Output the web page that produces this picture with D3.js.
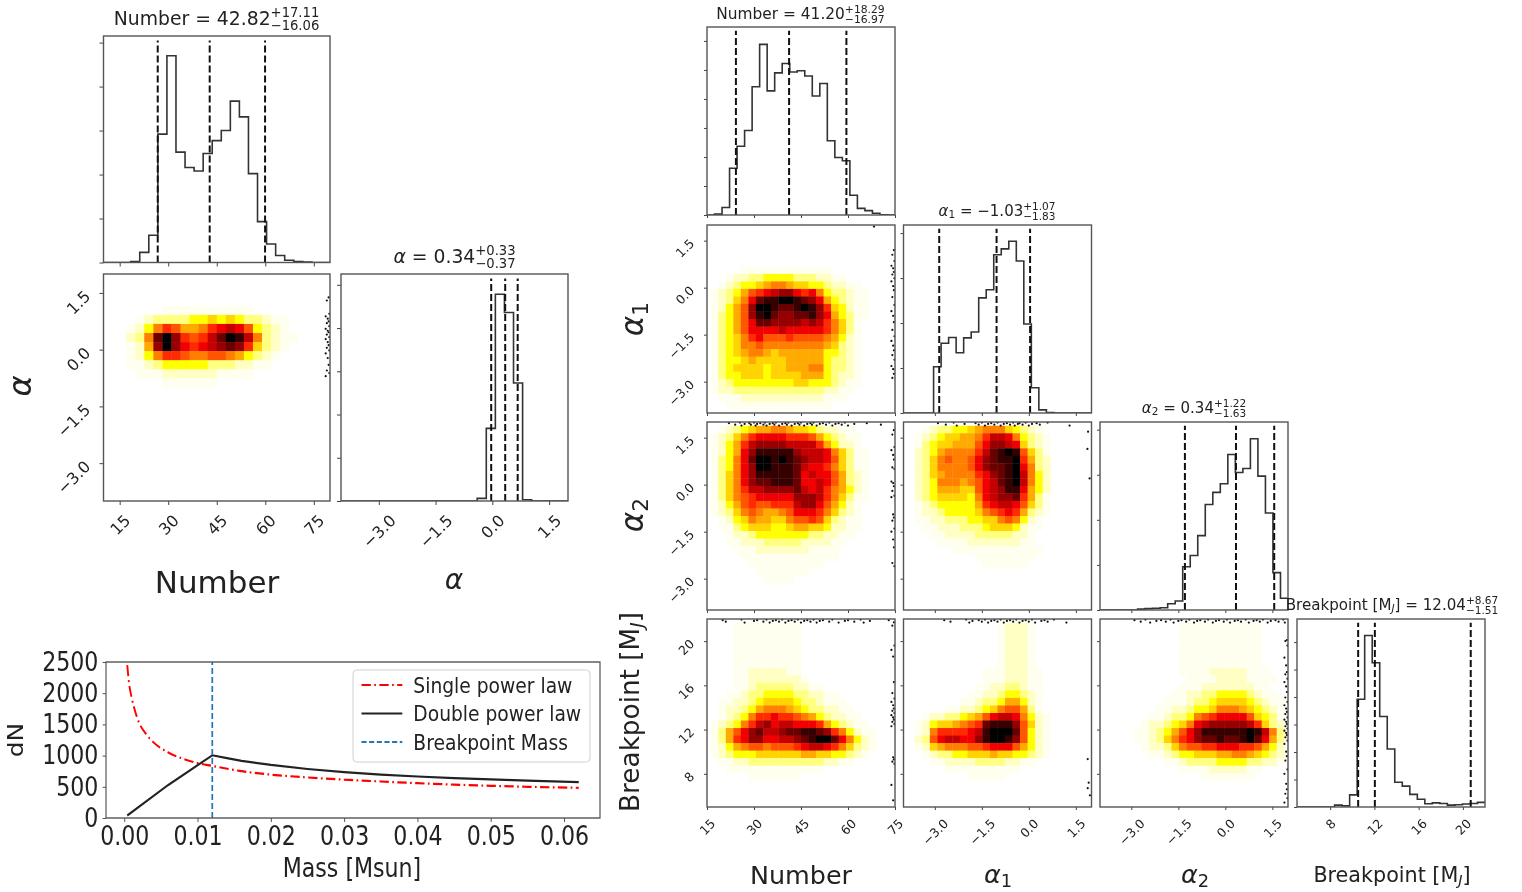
<!DOCTYPE html>
<html>
<head>
<meta charset="utf-8">
<script src="https://cdn.jsdelivr.net/npm/d3@7"></script>
<style>
  body { margin: 0; background: #fff; }
  svg { display: block; filter: blur(0.6px); }
  text { font-family: "DejaVu Sans", sans-serif; fill: #222; }
</style>
</head>
<body>
<script>
// ticks
var ticksNumber = [15, 30, 45, 60, 75];
var ticksAlpha = [-3, -1.5, 0, 1.5];
var ticksBreak = [8, 12, 16, 20];

// 25 bin histograms
var histNumberA = [0,0,0,2,23,62,292,470,251,216,208,248,277,300,367,331,202,93,42,16,5,2,1,0,0];
var histAlphaA = [0,0,0,0,0,0,0,0,0,0,0,0,0,0,0,6,168,478,436,273,3,0,0,0,0];
var histNumberB = [0,3,26,161,237,291,442,588,428,490,522,493,497,479,410,453,256,198,187,68,23,15,6,1,0];
var histAlpha1 = [0,0,0,0,103,155,168,134,167,180,256,274,352,365,382,338,198,56,7,1,0,0,0,0,0];
var histAlpha2 = [0,0,0,0,0,2,3,4,5,14,20,96,121,165,234,261,280,345,305,314,380,297,215,83,26];
var histBreak = [0,0,0,0,0,7,4,44,392,624,525,329,211,90,76,46,28,12,15,13,7,8,11,13,17];

// quantile lines
var quantNumberA = [26.76, 42.82, 59.93];
var quantAlphaA = [-0.03, 0.34, 0.67];
var quantNumberB = [24.23, 41.20, 59.49];
var quantAlpha1 = [-2.86, -1.03, 0.04];
var quantAlpha2 = [-1.29, 0.34, 1.56];
var quantBreak = [10.53, 12.04, 20.71];

// density cells, one hex level per cell (0 white .. f black), rows from the top
var heatNumberAlpha = ["","","",
  "0000001111111111",
  "00012333344545433211",
  "001247986679aba84321",
  "00237dfc989bdfeb73211",
  "00126cfca9abcdc95321",
  "0012479987788764321",
  "001123444443332211",
  "0001112222221111",
  "000000111111"];
var heatNumberAlpha1 = ["","","","","",
  "0000111111111111",
  "001223344443332211",
  "01234456776554432211",
  "1234689abcca9a7433211",
  "12357adeeffedca643211",
  "12468cffeddefec954211",
  "13468cefdccddeca64311",
  "13468addccccbcb97531",
  "13468aaaabaaaaa97531",
  "134579a8889888876421",
  "13457787777777765321",
  "13456776566666644321",
  "13445655556666643321",
  "13455554556667743321",
  "13445554555566643221",
  "12344444444554443211",
  "1223333333333332211",
  "011122222222222111",
  "0011111111111111"];
var heatNumberAlpha2 = [
  "0123456677655432211",
  "123579aaaa9998643211",
  "12469bccccbbbb964221",
  "1246aceeeeecbbba75311",
  "1347adffefedcbba85311",
  "1347acffeeedbaa975311",
  "1357aceeeeedabaa86321",
  "1357acddeeedaaba86321",
  "13579bbccccdbab976421",
  "135789aaaaacccb975311",
  "12468988999bcca86421",
  "12357876678aaa975321",
  "01245766557889853211",
  "01134555445665542211",
  "0012234444444332211",
  "001122233333222211",
  "00011122222221111",
  "00001111111111111",
  "000001111111111",
  "0000001111111",
  "00000001111"];
var heatAlpha1Alpha2 = [
  "001233445677754321",
  "01234556679bba74321",
  "0134556668accba5321",
  "0234677779bdefe8531",
  "023578778acdeef9632",
  "023577778acddefa732",
  "0235677779acdefb742",
  "0234777678abdefb742",
  "0234666558abceea642",
  "0234555547abccd9631",
  "01234444469abba8531",
  "0122344445789a96321",
  "011223334455787421",
  "001122233345554211",
  "00011222233333221",
  "00001111222222211",
  "000000111111111111",
  "00000000011111111",
  "0000000000111111"];
var heatNumberBreak = [
  "000111111111","000111111111","000111111111","000111111111","000111111111","000111111111",
  "000112222211",
  "0001122222221",
  "000112333332211",
  "00112334444332211",
  "011223455554332111",
  "0122346777654332211",
  "01234799a99876432211",
  "123479bcabbaaa9643211",
  "1368acdbbcddeedc974211",
  "1369accaabbcdeffda7421",
  "124678878889abba975321",
  "123444555555665544321",
  "0112233333333332211",
  "001111111111111",
  "000001111111"];
var heatAlpha1Break = [
  "00000000000012221","00000000000012221","00000000000012221",
  "00000000000012221","00000000000012221","00000000000012221",
  "000000000011122211",
  "000000000011122211",
  "000000000112233211",
  "000000001122344321",
  "000000011233466421",
  "000001122345788631",
  "00122334568abba7421",
  "0124556789deeec8521",
  "01279999abefffd8421",
  "0238abbaaceffec8421",
  "01256777889aaa86421",
  "0012334455565544321",
  "00011222233332211",
  "000001111111111",
  "0000000011111"];
var heatAlpha2Break = [
  "000000000011111111111","000000000011111111111","000000000011111111111",
  "000000000011111111111","000000000011111111111","000000000011111111111",
  "0000000000111122222111",
  "00000000000111122221111",
  "0000000000111222222211",
  "00000000011223344443211",
  "000000001112334555543211",
  "000000011223445777654321",
  "000000112334789aaaa85431",
  "000001223457abcccccb95321",
  "00001123468aceeeeeefeb731",
  "00001123579acddeddefda631",
  "000001223578899aaa9986421",
  "000000112344555667765432",
  "000000001123333444433221",
  "000000000011112222211",
  "00000000000001111111"];

// chains pinned against the prior edges
var dotOffsets = [0.006, 0.014, 0.003, 0.019, 0.01];
var rightDotsA = [1.38,1.3,0.95,0.88,0.82,0.75,0.7,0.62,0.55,0.5,0.46,0.4,0.33,0.28,0.2,0.12,0.05,-0.02,-0.1,-0.22,-0.4,-0.55,-0.62,-0.7];
var rightDotsB = [1.2,1.05,0.85,0.7,0.62,0.5,0.42,0.3,0.2,0.05,-0.08,-0.3,-0.55,-0.75,-0.9,-1.1,-1.35,-1.55,-1.7,-1.85,-2,-2.15,-2.3,-2.5,-2.6,-2.75,-2.88];
var rightDotsC = [1.74,1.6,1.2,1.1,0.95,0.8,0.55,0.5,0.1,0.05,-0.05,-0.2,-0.35,-0.4,-0.95,-1.05,-1.15,-1.4,-1.5,-1.75,-2,-2.5,-2.6];
var rightDotsE = [21.7,21.4,19.6,19.2,18.6,16.3,15.3,14.8,14.5,14.2,13.9,13.7,13.5,13.3,13.1,12.9,12.7,12.5,12.3,9.5,9.3,9.1,8.9,7,5.6];
var rightDotsG = [20.1,20,19.6,18.5,17.8,17.2,17,16.6,16.3,15.9,15.4,14.9,14.5,14.2,13.9,13.6,13.4,13.1,12.9,12.7,12.5,12.3,12.1,11.9,11.7,11.5,11.3,11,10.7,10,9.6,9.2,8.4,8,7.1,6.6,6.2,5.8,5.4];
var topDotsC = [22,24,25.5,26,27,28.5,29,30,30.5,31,32,33,33.5,34,35,36,36.5,37,38,39,40,40.5,41,42,43,44,44.5,45,46,47,48,48.5,49,50,51,52,53,54,55,56,57,58,59,60,62,66,70.5];
var topDotsD = [-2.9,-2.65,-2.4,-2.3,-2.05,-1.7,-1.6,-1.5,-1.4,-1.3,-1.2,-1.1,-1,-0.9,-0.8,-0.7,-0.6,-0.5,-0.45,-0.35,-0.3,-0.2,-0.1,0,0.1,0.25,0.35,0.6,1.3];
var topDotsE = [20,21,26,27,30,31,33,34,35,36,37,38,39,40,41,42,43,44,45,46,47,48,49,50,51,52,54,55,57,59,60,62,64,65,67,73];
var topDotsF = [-2.7,-2.5,-2,-1.9,-1.8,-1.6,-1.5,-1.4,-1.3,-1.2,-1.1,-1,-0.9,-0.8,-0.7,-0.6,-0.5,-0.4,-0.3,-0.2,-0.1,0,0.1,0.2,0.4,0.5,0.6,0.8,1.2];
var topDotsG = [-2.9,-2.7,-2.55,-2.4,-2.2,-2.05,-1.9,-1.75,-1.65,-1.5,-1.4,-1.25,-1.15,-1,-0.9,-0.8,-0.65,-0.55,-0.4,-0.3,-0.2,-0.05,0.05,0.15,0.3,0.4,0.5,0.65,0.75,0.9,1,1.1,1.2,1.35,1.45,1.6,1.7,1.85,1.9];
var pointsD = [[1.89,1.69],[1.87,1.14],[1.94,0.2]];
var pointsF = [[1.88,9.33],[1.91,7.2],[1.88,6.7],[1.95,6.06]];

// mass function panel
var singleMass = [0.0004,0.0006,0.001,0.0015,0.002,0.003,0.004,0.006,0.008,0.01,0.012,0.016,0.02,0.025,0.03,0.035,0.04,0.045,0.05,0.055,0.062];
var singleDN = [2450,2200,1930,1700,1530,1340,1210,1050,950,880,835,750,695,650,615,585,558,535,516,500,484];
var doubleMass = [0.0004,0.006,0.012,0.014,0.016,0.02,0.025,0.03,0.035,0.04,0.045,0.05,0.055,0.062];
var doubleDN = [40,530,1005,960,915,850,785,735,695,665,640,620,600,575];
var breakMass = 0.012;
var legendNames = ["Single power law", "Double power law", "Breakpoint Mass"];

var heatLevels = ["#ffffff","#fffff0","#ffffc4","#ffff80","#ffff00","#ffd400","#ffaa00","#ff8000","#ff5500","#ff2a00","#f00000","#c40000","#960000","#680000","#360000","#000000"];
var heatColor = d3.scaleLinear().domain(d3.range(16)).range(heatLevels);

var svg = d3.select("body").append("svg").attr("width", 1522).attr("height", 892);
var clipCount = 0;

function minusFmt(d) { return d.toFixed(1).replace("-", "\u2212"); }
function intFmt(d) { return String(d); }

function addPanel(b) {
  var g = svg.append("g");
  var id = "clip" + (clipCount++);
  svg.append("clipPath").attr("id", id).append("rect")
      .attr("x", b.x).attr("y", b.y).attr("width", b.w).attr("height", b.h);
  g.clip = id;
  return g;
}

function frame(g, b) {
  g.append("rect").attr("x", b.x).attr("y", b.y).attr("width", b.w).attr("height", b.h)
      .attr("fill", "none").attr("stroke", "#555").attr("stroke-width", 1.4);
}

function drawAxes(g, b, x, y, xTicks, yTicks, o) {
  var ax = g.append("g").attr("transform", "translate(0," + (b.y + b.h) + ")")
      .call(d3.axisBottom(x).tickValues(xTicks).tickSize(o.tick).tickSizeOuter(0)
        .tickFormat(o.xFmt || function() { return ""; }));
  var ay = g.append("g").attr("transform", "translate(" + b.x + ",0)")
      .call(d3.axisLeft(y).tickValues(yTicks).tickSize(o.tick).tickSizeOuter(0)
        .tickFormat(o.yFmt || function() { return ""; }));
  [ax, ay].forEach(function(a) {
    a.select(".domain").remove();
    a.selectAll("line").attr("stroke", "#444").attr("stroke-width", 1);
    a.selectAll("text").attr("font-size", o.font).style("font-family", null).attr("fill", "#444");
  });
  ax.selectAll("text").each(function() {
    var len = this.getComputedTextLength();
    var half = (len * 0.707 + o.font * 0.7) / 2;
    d3.select(this).attr("x", 0).attr("y", 0).attr("dy", "0.35em").attr("text-anchor", "middle")
        .attr("transform", "translate(0," + (o.gap + half) + ") rotate(-45)");
  });
  ay.selectAll("text").each(function() {
    d3.select(this).attr("x", 0).attr("y", 0).attr("dy", "0.35em").attr("text-anchor", "end")
        .attr("transform", "translate(" + (-o.gap - 5) + ",0) rotate(-45)");
  });
}

function histPanel(b, xDom, xTicks, values, quants, yMax, o) {
  var g = addPanel(b);
  var x = d3.scaleLinear().domain(xDom).range([b.x, b.x + b.w]);
  var y = d3.scaleLinear().domain([0, yMax]).range([b.y + b.h, b.y]);
  var edge = d3.scaleLinear().domain([0, values.length]).range(xDom);
  var pts = values.map(function(v, i) { return [edge(i), v]; });
  pts.push([edge(values.length), values[values.length - 1]]);
  var line = d3.line().x(function(d) { return x(d[0]); }).y(function(d) { return y(d[1]); })
      .curve(d3.curveStepAfter);
  var inner = g.append("g").attr("clip-path", "url(#" + g.clip + ")");
  inner.append("path").datum(pts).attr("d", line)
      .attr("fill", "none").attr("stroke", "#333").attr("stroke-width", 1.6);
  inner.selectAll("line.q").data(quants).enter().append("line").attr("class", "q")
      .attr("x1", function(d) { return x(d); }).attr("x2", function(d) { return x(d); })
      .attr("y1", y(0)).attr("y2", y(0) - b.h * 0.98)
      .attr("stroke", "#111").attr("stroke-width", 2).attr("stroke-dasharray", "7 3");
  drawAxes(g, b, x, y, xTicks, d3.range(0, yMax, 100), o);
  frame(g, b);
}

function heatPanel(b, xDom, xTicks, yDom, yTicks, rows, dots, o) {
  var g = addPanel(b);
  var x = d3.scaleLinear().domain(xDom).range([b.x, b.x + b.w]);
  var y = d3.scaleLinear().domain(yDom).range([b.y + b.h, b.y]);
  // cells sit half a bin to the right and below the panel grid
  var sx = b.w / 25, sy = b.h / 25;
  var cx = d3.scaleBand().domain(d3.range(25)).range([b.x + sx / 2, b.x + b.w + sx / 2]);
  var cy = d3.scaleBand().domain(d3.range(25)).range([b.y + sy / 2, b.y + b.h + sy / 2]);
  var cells = [];
  rows.forEach(function(row, r) {
    row.padEnd(25, "0").split("").forEach(function(ch, k) {
      if (ch !== "0") cells.push({ k: k, r: r, v: parseInt(ch, 16) });
    });
  });
  var inner = g.append("g").attr("clip-path", "url(#" + g.clip + ")");
  inner.selectAll("rect").data(cells).enter().append("rect")
      .attr("x", function(d) { return cx(d.k); }).attr("y", function(d) { return cy(d.r); })
      .attr("width", cx.bandwidth() + 0.4).attr("height", cy.bandwidth() + 0.4)
      .attr("fill", function(d) { return heatColor(d.v); });
  var xSpan = xDom[1] - xDom[0], ySpan = yDom[1] - yDom[0];
  var pts = [];
  (dots.top || []).forEach(function(v, i) {
    pts.push([v, yDom[1] - dotOffsets[i % 5] * ySpan]);
  });
  (dots.right || []).forEach(function(v, i) {
    pts.push([xDom[1] - dotOffsets[i % 5] * xSpan, v]);
  });
  (dots.points || []).forEach(function(p) { pts.push(p); });
  inner.selectAll("circle").data(pts).enter().append("circle")
      .attr("cx", function(d) { return x(d[0]); }).attr("cy", function(d) { return y(d[1]); })
      .attr("r", 1.1).attr("fill", "#111");
  drawAxes(g, b, x, y, xTicks, yTicks, o);
  frame(g, b);
}

// math label: parts are [string, "i" italic / "s" subscript / "si" italic subscript]
function mathText(parent, parts, size, anchor) {
  var t = parent.append("text").attr("font-size", size).attr("text-anchor", anchor || "middle");
  parts.forEach(function(p) {
    var s = t.append("tspan").text(p[0]);
    if (p[1] && p[1].indexOf("i") >= 0) s.attr("font-style", "italic");
    if (p[1] && p[1].indexOf("s") === 0) {
      s.attr("font-size", size * 0.7).attr("dy", size * 0.15);
      t.needReset = true;
    } else if (t.needReset) {
      s.attr("dy", -size * 0.15);
      t.needReset = false;
    }
  });
  return t;
}

function title(cx, base, parts, up, down, size) {
  var g = svg.append("g");
  var main = mathText(g, parts, size, "start");
  var small = size * 0.7;
  var w0 = main.node().getComputedTextLength();
  var u = g.append("text").attr("font-size", small).attr("x", w0).attr("y", -size * 0.42).text(up);
  var d = g.append("text").attr("font-size", small).attr("x", w0).attr("y", size * 0.24).text(down);
  var w = w0 + Math.max(u.node().getComputedTextLength(), d.node().getComputedTextLength());
  g.attr("transform", "translate(" + (cx - w / 2) + "," + base + ")");
}

function label(x, y, parts, size, rot) {
  var g = svg.append("g").attr("transform", "translate(" + x + "," + y + ")" + (rot ? " rotate(-90)" : ""));
  mathText(g, parts, size);
}

// ---- left corner plot
var big = { tick: 4, font: 16, gap: 11 };
var lHist = { x: 103.5, y: 36, w: 226.5, h: 226.5 };
var lHeat = { x: 103.5, y: 274, w: 226.5, h: 227 };
var lAlpha = { x: 341, y: 274, w: 227, h: 227 };

histPanel(lHist, [10, 80], ticksNumber, histNumberA, quantNumberA, 515, big);
heatPanel(lHeat, [10, 80], ticksNumber, [-4, 2], ticksAlpha, heatNumberAlpha, { right: rightDotsA },
    { tick: 4, font: 16, gap: 11, xFmt: intFmt, yFmt: minusFmt });
histPanel(lAlpha, [-4, 2], ticksAlpha, histAlphaA, quantAlphaA, 525,
    { tick: 4, font: 16, gap: 11, xFmt: minusFmt });

title(216.5, 25, [["Number = 42.82"]], "+17.11", "\u221216.06", 18.8);
title(454.5, 263, [["\u03b1", "i"], [" = 0.34"]], "+0.33", "\u22120.37", 18.8);
label(217, 593, [["Number"]], 31);
label(454, 589, [["\u03b1", "i"]], 28);
label(31, 386, [["\u03b1", "i"]], 32, true);

// ---- right corner plot
var colX = [707, 903.5, 1100, 1297];
var rowY = [27, 225, 422, 619];
var side = 188;
function box(c, r) { return { x: colX[c], y: rowY[r], w: side, h: side }; }
var small = { tick: 3, font: 12.5, gap: 10 };
function withFmt(xFmt, yFmt) {
  return { tick: 3, font: 12.5, gap: 10, xFmt: xFmt, yFmt: yFmt };
}

histPanel(box(0, 0), [15, 75], ticksNumber, histNumberB, quantNumberB, 648, small);
histPanel(box(1, 1), [-4, 2], ticksAlpha, histAlpha1, quantAlpha1, 418, small);
histPanel(box(2, 2), [-4, 2], ticksAlpha, histAlpha2, quantAlpha2, 417, small);
histPanel(box(3, 3), [5, 22], ticksBreak, histBreak, quantBreak, 684, withFmt(intFmt));

heatPanel(box(0, 1), [15, 75], ticksNumber, [-4, 2], ticksAlpha, heatNumberAlpha1,
    { right: rightDotsB, points: [[68.3, 1.95]] }, withFmt(null, minusFmt));
heatPanel(box(0, 2), [15, 75], ticksNumber, [-4, 2], ticksAlpha, heatNumberAlpha2,
    { top: topDotsC, right: rightDotsC }, withFmt(null, minusFmt));
heatPanel(box(1, 2), [-4, 2], ticksAlpha, [-4, 2], ticksAlpha, heatAlpha1Alpha2,
    { top: topDotsD, points: pointsD }, small);
heatPanel(box(0, 3), [15, 75], ticksNumber, [5, 22], ticksBreak, heatNumberBreak,
    { top: topDotsE, right: rightDotsE }, withFmt(intFmt, intFmt));
heatPanel(box(1, 3), [-4, 2], ticksAlpha, [5, 22], ticksBreak, heatAlpha1Break,
    { top: topDotsF, points: pointsF }, withFmt(minusFmt));
heatPanel(box(2, 3), [-4, 2], ticksAlpha, [5, 22], ticksBreak, heatAlpha2Break,
    { top: topDotsG, right: rightDotsG }, withFmt(minusFmt));

title(800.5, 19, [["Number = 41.20"]], "+18.29", "\u221216.97", 15.4);
title(997, 216, [["\u03b1", "i"], ["1", "s"], [" = \u22121.03"]], "+1.07", "\u22121.83", 15);
title(1194, 413, [["\u03b1", "i"], ["2", "s"], [" = 0.34"]], "+1.22", "\u22121.63", 15);
title(1392, 610, [["Breakpoint [M"], ["J", "si"], ["] = 12.04"]], "+8.67", "\u22121.51", 15.1);

label(801, 884, [["Number"]], 25.4);
label(998, 883, [["\u03b1", "i"], ["1", "s"]], 25.5);
label(1195, 883, [["\u03b1", "i"], ["2", "s"]], 25.5);
label(1392, 882, [["Breakpoint [M"], ["J", "si"], ["]"]], 20.7);
label(643, 319, [["\u03b1", "i"], ["1", "s"]], 31, true);
label(643, 515, [["\u03b1", "i"], ["2", "s"]], 31, true);
label(639, 712, [["Breakpoint [M"], ["J", "si"], ["]"]], 26.3, true);

// ---- mass function panel, the whole thing is squeezed sideways like the picture
var squeeze = 0.85;
var mBox = { x: 106, y: 662, w: 494, h: 156 };
var mW = mBox.w / squeeze;
var mg = svg.append("g").attr("transform", "translate(" + mBox.x + "," + mBox.y + ") scale(" + squeeze + ",1)");
var mx = d3.scaleLinear().domain([-0.0025, 0.0649]).range([0, mW]);
var my = d3.scaleLinear().domain([0, 2500]).range([mBox.h, 0]);
var mline = d3.line().x(function(d) { return mx(d[0]); }).y(function(d) { return my(d[1]); })
    .curve(d3.curveMonotoneX);

var axM = mg.append("g").attr("transform", "translate(0," + mBox.h + ")")
    .call(d3.axisBottom(mx).tickValues([0, 0.01, 0.02, 0.03, 0.04, 0.05, 0.06]).tickFormat(d3.format(".2f"))
      .tickSize(4).tickPadding(5).tickSizeOuter(0));
var ayM = mg.append("g")
    .call(d3.axisLeft(my).tickValues([0, 500, 1000, 1500, 2000, 2500]).tickFormat(d3.format("d"))
      .tickSize(4).tickPadding(5).tickSizeOuter(0));
[axM, ayM].forEach(function(a) {
  a.select(".domain").remove();
  a.selectAll("text").attr("font-size", 26).style("font-family", null);
  a.selectAll("line").attr("stroke", "#444");
});

mg.append("path").datum(d3.zip(singleMass, singleDN)).attr("d", mline)
    .attr("fill", "none").attr("stroke", "#f00").attr("stroke-width", 2.2)
    .attr("stroke-dasharray", "11 4 2 4");
mg.append("path").datum(d3.zip(doubleMass, doubleDN)).attr("d", d3.line()
      .x(function(d) { return mx(d[0]); }).y(function(d) { return my(d[1]); }))
    .attr("fill", "none").attr("stroke", "#222").attr("stroke-width", 2.2);
mg.append("line").attr("x1", mx(breakMass)).attr("x2", mx(breakMass)).attr("y1", my(0)).attr("y2", my(2500))
    .attr("stroke", "#1f77b4").attr("stroke-width", 2).attr("stroke-dasharray", "6 3");
mg.append("rect").attr("width", mW).attr("height", mBox.h)
    .attr("fill", "none").attr("stroke", "#555").attr("stroke-width", 1.4);

mg.append("text").attr("x", (352 - mBox.x) / squeeze).attr("y", 215).attr("text-anchor", "middle")
    .attr("font-size", 26).text("Mass [Msun]");
mg.append("text").attr("transform", "translate(-98,78) rotate(-90)").attr("text-anchor", "middle")
    .attr("font-size", 25).text("dN");

var legendX = (353 - mBox.x) / squeeze, legendW = 237 / squeeze;
var legend = mg.append("g").attr("transform", "translate(" + legendX + ",8)");
legend.append("rect").attr("width", legendW).attr("height", 92).attr("rx", 4)
    .attr("fill", "#fff").attr("fill-opacity", 0.8).attr("stroke", "#ccc");
var legendRow = d3.scalePoint().domain(legendNames).range([15, 72]);
var legendDash = ["11 4 2 4", null, "6 3"];
var legendColor = ["#f00", "#222", "#1f77b4"];
legendNames.forEach(function(name, i) {
  legend.append("line").attr("x1", 10).attr("x2", 58).attr("y1", legendRow(name)).attr("y2", legendRow(name))
      .attr("stroke", legendColor[i]).attr("stroke-width", 2).attr("stroke-dasharray", legendDash[i]);
  legend.append("text").attr("x", 71).attr("y", legendRow(name)).attr("dy", "0.35em")
      .attr("font-size", 22).text(name);
});
</script>
</body>
</html>
